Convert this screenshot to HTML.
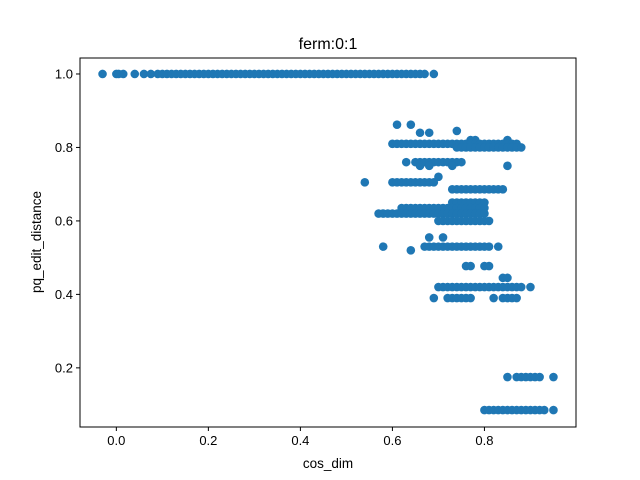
<!DOCTYPE html>
<html><head><meta charset="utf-8"><style>
body{margin:0;background:#fff;}
svg{display:block;font-family:"Liberation Sans","DejaVu Sans",sans-serif;}
</style></head><body>
<svg id="chart" width="640" height="480">
<rect x="0" y="0" width="640" height="480" fill="#fff"/>
<text x="328" y="49" font-size="16" text-anchor="middle">ferm:0:1</text>
<g id="marks"></g>
<g id="axes"></g>
<text x="328" y="468" font-size="13.5" text-anchor="middle">cos_dim</text>
<text x="0" y="0" font-size="13.5" text-anchor="middle" transform="translate(41,242) rotate(-90)">pq_edit_distance</text>
</svg>
<script>
const xTicks=[0.0,0.2,0.4,0.6,0.8];
const xTickLabels=["0.0","0.2","0.4","0.6","0.8"];
const yTicks=[0.2,0.4,0.6,0.8,1.0];
const yTickLabels=["0.2","0.4","0.6","0.8","1.0"];
const rowY=[1.0,0.862,0.845,0.84,0.82,0.81,0.80,0.76,0.75,0.72,0.705,0.686,0.65,0.635,0.62,0.60,0.555,0.53,0.52,0.477,0.445,0.42,0.39,0.175,0.085];
const rowX=[
[-0.03,0.0,0.005,0.015,0.04,0.06,0.075,0.09,0.10,0.11,0.12,0.13,0.14,0.15,0.16,0.17,0.18,0.19,0.20,0.21,0.22,0.23,0.24,0.25,0.26,0.27,0.28,0.29,0.30,0.31,0.32,0.33,0.34,0.35,0.36,0.37,0.38,0.39,0.40,0.41,0.42,0.43,0.44,0.45,0.46,0.47,0.48,0.49,0.50,0.51,0.52,0.53,0.54,0.55,0.56,0.57,0.58,0.59,0.60,0.61,0.62,0.63,0.64,0.65,0.66,0.67,0.69],
[0.61,0.64],
[0.74],
[0.66,0.68],
[0.77,0.78,0.85],
[0.60,0.61,0.62,0.63,0.64,0.65,0.66,0.67,0.68,0.69,0.70,0.71,0.72,0.73,0.74,0.75,0.76,0.77,0.78,0.79,0.80,0.81,0.82,0.83,0.84,0.85,0.86,0.87],
[0.74,0.75,0.76,0.77,0.78,0.79,0.80,0.81,0.82,0.83,0.84,0.85,0.86,0.87,0.88],
[0.63,0.65,0.66,0.67,0.68,0.69,0.70,0.71,0.72,0.73,0.74,0.75],
[0.66,0.68,0.73,0.85],
[0.70],
[0.54,0.60,0.61,0.62,0.63,0.64,0.65,0.66,0.67,0.68,0.69],
[0.73,0.74,0.75,0.76,0.77,0.78,0.79,0.80,0.81,0.82,0.83,0.84],
[0.73,0.74,0.75,0.76,0.77,0.78,0.79,0.80],
[0.62,0.63,0.64,0.65,0.66,0.67,0.68,0.69,0.70,0.71,0.72,0.73,0.74,0.75,0.76,0.77,0.78,0.79,0.80],
[0.57,0.58,0.59,0.60,0.61,0.62,0.63,0.64,0.65,0.66,0.67,0.68,0.69,0.70,0.71,0.72,0.73,0.74,0.75,0.76,0.77,0.78,0.79,0.80],
[0.70,0.71,0.72,0.73,0.74,0.75,0.76,0.77,0.78,0.79,0.80,0.81],
[0.68,0.71],
[0.58,0.67,0.68,0.69,0.70,0.71,0.72,0.73,0.74,0.75,0.76,0.77,0.78,0.79,0.80,0.81,0.83],
[0.64],
[0.76,0.77,0.80,0.81],
[0.84,0.85],
[0.70,0.71,0.72,0.73,0.74,0.75,0.76,0.77,0.78,0.79,0.80,0.81,0.82,0.83,0.84,0.85,0.86,0.87,0.88,0.90],
[0.69,0.72,0.73,0.74,0.75,0.76,0.77,0.82,0.84,0.85,0.86,0.87],
[0.85,0.87,0.88,0.89,0.90,0.91,0.92,0.95],
[0.80,0.81,0.82,0.83,0.84,0.85,0.86,0.87,0.88,0.89,0.90,0.91,0.92,0.93,0.95]
];
const NS="http://www.w3.org/2000/svg";
const L=80,R=576,T=58,B=427;
const xMin=-0.079,xMax=0.999,yMin=0.039,yMax=1.0435;
function sx(v){return L+(v-xMin)/(xMax-xMin)*(R-L);}
function sy(v){return B-(v-yMin)/(yMax-yMin)*(B-T);}
const marks=document.getElementById('marks');
rowY.forEach((y,i)=>{rowX[i].forEach(x=>{
  const c=document.createElementNS(NS,'circle');
  c.setAttribute('cx',sx(x));c.setAttribute('cy',sy(y));c.setAttribute('r',4.3);c.setAttribute('fill','#1f77b4');
  
  
  marks.appendChild(c);
});});
const axes=document.getElementById('axes');
function el(tag,attrs,txt){const e=document.createElementNS(NS,tag);for(const k in attrs)e.setAttribute(k,attrs[k]);if(txt!==undefined)e.textContent=txt;axes.appendChild(e);return e;}
const frame=el('rect',{x:L,y:T,width:R-L,height:B-T,fill:'none',stroke:'#000','stroke-width':1});


xTicks.forEach((v,i)=>{
  const t=el('line',{x1:sx(v),x2:sx(v),y1:B,y2:B+4,stroke:'#000'});
  
  
  const lb=el('text',{x:sx(v),y:B+18,'font-size':13,'text-anchor':'middle'},xTickLabels[i]);
  
  
});
yTicks.forEach((v,i)=>{
  const t=el('line',{x1:L-4,x2:L,y1:sy(v),y2:sy(v),stroke:'#000'});
  
  
  const lb=el('text',{x:L-7,y:sy(v)+4.5,'font-size':13,'text-anchor':'end'},yTickLabels[i]);
  
  
});
</script>
</body></html>
